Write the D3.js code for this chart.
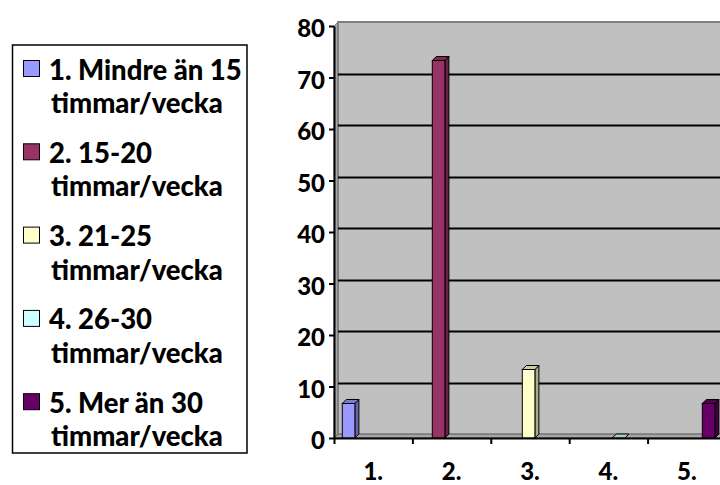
<!DOCTYPE html>
<html>
<head>
<meta charset="utf-8">
<script src="https://cdn.jsdelivr.net/npm/d3@7"></script>
<style>
  html, body { margin: 0; padding: 0; background: #fff; }
  svg { display: block; }
</style>
</head>
<body>
<div id="container"></div>
<script>
// chart data (share of answers, %)
var categories = ["1.", "2.", "3.", "4.", "5."];
var seriesNames = [
    ["1. Mindre än 15", "timmar/vecka"],
    ["2. 15-20", "timmar/vecka"],
    ["3. 21-25", "timmar/vecka"],
    ["4. 26-30", "timmar/vecka"],
    ["5. Mer än 30", "timmar/vecka"]
];
var seriesColors = ["#9999FF", "#993366", "#FFFFCC", "#CCFFFF", "#660066"];
// category i only holds a value for series i
var values = [6.7, 73.3, 13.3, 0, 6.7];
var yTicks = [0, 10, 20, 30, 40, 50, 60, 70, 80];

function drawChart() {
    var svgWidth = 720, svgHeight = 485;
    var fontFam = "Lato, 'Open Sans', sans-serif";

    var svg = d3.select("div#container")
        .append("svg")
        .attr("width", svgWidth)
        .attr("height", svgHeight);

    // plot area
    var plotLeft = 334, plotBottom = 438, plotTop = 26;
    var depth = 4; // 3d offset of back wall and bars

    var y = d3.scaleLinear().domain([0, 80]).range([plotBottom, plotTop]);
    var x = d3.scaleBand().domain(categories).range([plotLeft, plotLeft + 5 * 78.4]).padding(0);
    // position of each series inside a category
    var xs = d3.scaleBand().domain(d3.range(5)).range([8.3, 66.3]).padding(0);

    // back wall
    svg.append("rect")
        .attr("x", plotLeft + depth)
        .attr("y", plotTop - depth)
        .attr("width", svgWidth - plotLeft)
        .attr("height", plotBottom - plotTop)
        .attr("fill", "#c0c0c0");

    // left wall
    svg.append("polygon")
        .attr("points", [[plotLeft, plotBottom], [plotLeft, plotTop], [plotLeft + depth, plotTop - depth], [plotLeft + depth, plotBottom - depth]].join(" "))
        .attr("fill", "#a6a6a6")
        .attr("stroke", "#808080")
        .attr("stroke-width", 1);

    // floor
    svg.append("polygon")
        .attr("points", [[plotLeft, plotBottom], [plotLeft + depth, plotBottom - depth], [svgWidth + 5, plotBottom - depth], [svgWidth + 5, plotBottom]].join(" "))
        .attr("fill", "#a6a6a6")
        .attr("stroke", "#555")
        .attr("stroke-width", 1);

    // wall edges
    svg.append("path")
        .attr("d", "M" + (plotLeft + depth) + "," + (plotBottom - depth) + "V" + (plotTop - depth) + "H" + (svgWidth + 5))
        .attr("fill", "none")
        .attr("stroke", "#808080")
        .attr("stroke-width", 2);

    // gridlines on the back wall
    svg.selectAll("gridLines")
        .data(yTicks.filter(function (d) { return d > 0 && d < 80; }))
        .enter()
        .append("line")
        .attr("x1", plotLeft + depth)
        .attr("x2", svgWidth)
        .attr("y1", function (d) { return Math.round(y(d) - depth) + 0.5; })
        .attr("y2", function (d) { return Math.round(y(d) - depth) + 0.5; })
        .attr("stroke", "#000")
        .attr("stroke-width", 2);

    // bars (side, top, front faces)
    svg.selectAll("myBar")
        .data(values.map(function (v, i) { return { cat: categories[i], s: i, v: v }; }))
        .enter()
        .append("g")
        .each(function (d) {
            var g = d3.select(this);
            var x0 = x(d.cat) + xs(d.s);
            var x1 = x0 + xs.bandwidth() + 1;
            var yt = y(d.v), yb = y(0);
            var c = d3.color(seriesColors[d.s]);
            g.append("polygon")
                .attr("points", [[x1, yt], [x1 + depth, yt - depth], [x1 + depth, yb - depth], [x1, yb]].join(" "))
                .attr("fill", c.darker(1.1))
                .attr("stroke", "#000");
            g.append("polygon")
                .attr("points", [[x0, yt], [x0 + depth, yt - depth], [x1 + depth, yt - depth], [x1, yt]].join(" "))
                .attr("fill", c.darker(0.6))
                .attr("stroke", "#000");
            g.append("rect")
                .attr("x", x0)
                .attr("y", yt)
                .attr("width", x1 - x0)
                .attr("height", yb - yt)
                .attr("fill", c)
                .attr("stroke", "#000");
        });

    // Y axis
    var yAxis = svg.append("g")
        .attr("transform", "translate(" + plotLeft + ",0)")
        .call(d3.axisLeft(y).tickValues(yTicks).tickSize(5).tickSizeOuter(0).tickPadding(4));
    yAxis.select(".domain").attr("stroke", "#000").attr("stroke-width", 2);
    yAxis.selectAll(".tick line").attr("stroke", "#000").attr("stroke-width", 2);
    yAxis.selectAll(".tick text")
        .attr("dy", "0.44em")
        .attr("fill", "#000")
        .style("font-family", fontFam)
        .style("font-weight", "900")
        .style("font-size", "24px");

    // X axis
    var xAxis = svg.append("g")
        .attr("transform", "translate(0," + plotBottom + ")")
        .call(d3.axisBottom(x).tickSize(0).tickSizeOuter(0).tickPadding(25));
    xAxis.select(".domain").attr("stroke", "#000").attr("stroke-width", 2);
    xAxis.selectAll(".tick text")
        .attr("fill", "#000")
        .style("font-family", fontFam)
        .style("font-weight", "900")
        .style("font-size", "24px");
    // tick marks between categories
    svg.selectAll("xTicks")
        .data(categories)
        .enter()
        .append("line")
        .attr("x1", function (d) { return x(d) + 0.5; })
        .attr("x2", function (d) { return x(d) + 0.5; })
        .attr("y1", plotBottom)
        .attr("y2", plotBottom + 6)
        .attr("stroke", "#000")
        .attr("stroke-width", 2);

    // legend
    svg.append("rect")
        .attr("x", 12.5)
        .attr("y", 45)
        .attr("width", 234.5)
        .attr("height", 408)
        .attr("fill", "#fff")
        .attr("stroke", "#000")
        .attr("stroke-width", 1.5);

    var legendSize = 16, legendStep = 83.3, firstBase = 79.5;

    svg.selectAll("legendDots")
        .data(seriesColors)
        .enter()
        .append("rect")
        .attr("x", 23.5)
        .attr("y", function (d, i) { return firstBase + i * legendStep - 19; })
        .attr("width", legendSize)
        .attr("height", legendSize)
        .attr("fill", function (d) { return d; })
        .attr("stroke", "#000")
        .attr("stroke-width", 1);

    var labels = svg.selectAll("legendLabels")
        .data(seriesNames)
        .enter()
        .append("text")
        .attr("x", 49)
        .attr("y", function (d, i) { return firstBase + i * legendStep; })
        .style("font-family", fontFam)
        .style("font-weight", "900")
        .style("font-size", "26px")
        .attr("fill", "#000");

    labels.append("tspan")
        .attr("x", 49)
        .text(function (d) { return d[0]; });
    labels.append("tspan")
        .attr("x", 51)
        .attr("dy", 33.5)
        .text(function (d) { return d[1]; });

    // fit the font so "timmar/vecka" is about 172px wide, like the picture
    var probe = labels.select("tspan:nth-child(2)").node();
    var w = probe.getComputedTextLength();
    if (w > 0) {
        labels.style("font-size", (26 * 172 / w).toFixed(2) + "px");
    }
}

drawChart();
</script>
</body>
</html>
